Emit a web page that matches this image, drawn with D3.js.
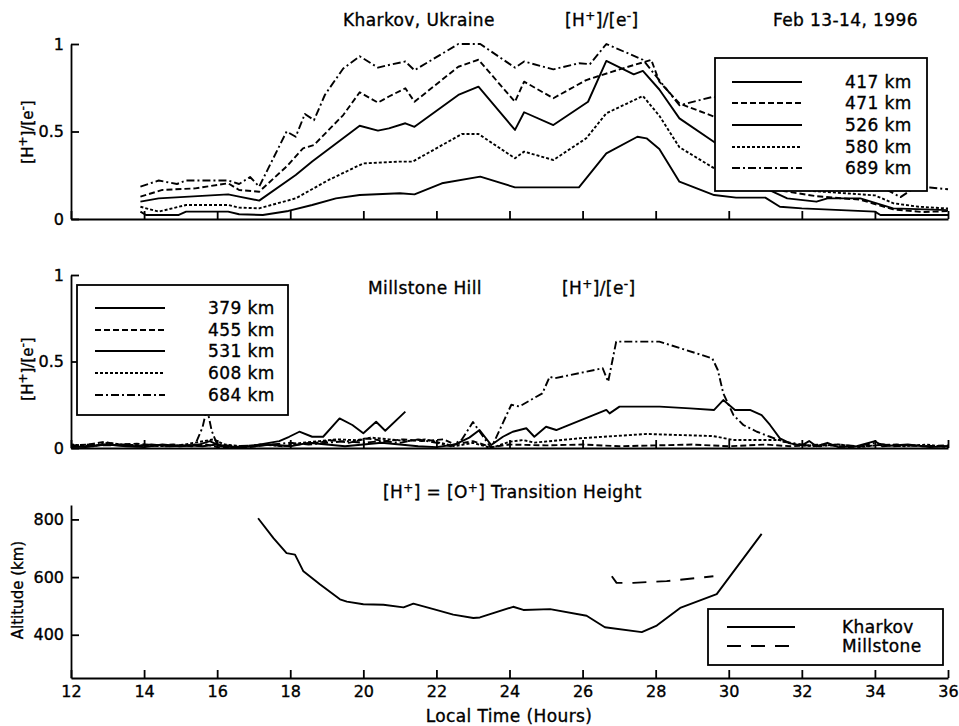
<!DOCTYPE html>
<html>
<head>
<meta charset="utf-8">
<script src="https://cdn.jsdelivr.net/npm/d3@7"></script>
<style>
  body { margin: 0; background: #fff; }
  svg text { font-family: "DejaVu Sans", sans-serif; font-size: 17px; letter-spacing: 0.4px; fill: #000; stroke: #000; stroke-width: 0.35px; }
  svg .tick text { font-size: 16px; letter-spacing: 0; }
  svg text.ylab { font-size: 15px; letter-spacing: 0; }
</style>
</head>
<body>
<svg id="chart" width="959" height="726"></svg>
<script>
// Kharkov [H+]/[e-] by altitude, [hour, ratio]
let k689 = [[13.9,0.185],[14.4,0.22],[14.9,0.2],[15.15,0.22],[16.3,0.22],[16.6,0.2],[16.9,0.24],[17.15,0.185],[17.9,0.5],[18.15,0.47],[18.4,0.6],[18.65,0.565],[18.95,0.71],[19.45,0.86],[19.9,0.93],[20.4,0.865],[20.7,0.88],[21.15,0.9],[21.4,0.85],[22.6,1.0],[23.2,1.0],[24.15,0.865],[24.4,0.9],[25.2,0.855],[25.9,0.89],[26.2,0.885],[26.65,1.0],[27.65,0.91],[28.65,0.65],[29.6,0.7],[30.5,0.62],[31.5,0.45],[32.5,0.32],[33.5,0.24],[34.3,0.17],[34.7,0.125],[35.1,0.18],[35.5,0.18],[36,0.17]]
let k580 = [[13.9,0.128],[14.5,0.166],[15.4,0.175],[16.3,0.204],[16.6,0.166],[17.15,0.156],[17.9,0.3],[18.35,0.404],[18.65,0.423],[19.45,0.594],[19.9,0.724],[20.4,0.665],[20.7,0.7],[21.15,0.747],[21.4,0.67],[22.6,0.87],[23.15,0.91],[24.15,0.67],[24.4,0.785],[25.2,0.69],[26.1,0.794],[27.1,0.861],[27.88,0.909],[28.1,0.785],[28.65,0.66],[29.6,0.585],[30.5,0.45],[31.5,0.16],[32.4,0.13],[33.6,0.11],[34.5,0.055],[35.3,0.04],[36,0.045]]
let k526 = [[13.9,0.099],[14.4,0.118],[16.3,0.141],[16.6,0.128],[17.15,0.105],[18.15,0.251],[18.6,0.328],[19.9,0.533],[20.4,0.505],[20.7,0.518],[21.15,0.547],[21.4,0.527],[22.6,0.709],[23.15,0.756],[24.15,0.509],[24.4,0.61],[25.2,0.537],[26.15,0.67],[26.65,0.903],[27.4,0.827],[27.65,0.846],[28.1,0.74],[28.65,0.575],[29.6,0.44],[30.5,0.3],[31.1,0.166],[31.6,0.118],[32.4,0.099],[32.7,0.118],[33.6,0.118],[34.5,0.061],[36,0.051]]
let k471 = [[13.9,0.07],[14.4,0.042],[15.15,0.08],[16.3,0.08],[16.6,0.065],[17.15,0.061],[18.15,0.118],[19.05,0.223],[20.0,0.318],[21.0,0.328],[21.35,0.328],[22.7,0.486],[23.15,0.486],[24.15,0.347],[24.4,0.385],[25.2,0.337],[26.1,0.461],[26.65,0.604],[27.65,0.703],[28.1,0.59],[28.65,0.41],[29.6,0.29],[30.5,0.22],[31.5,0.19],[32.3,0.16],[33.0,0.15],[34.0,0.135],[34.5,0.09],[35.2,0.07],[36,0.06]]
let k417 = [[13.9,0.042],[14.05,0.023],[14.95,0.023],[15.15,0.042],[16.3,0.042],[16.6,0.027],[17.25,0.023],[17.95,0.046],[18.6,0.08],[19.25,0.118],[19.9,0.137],[21.0,0.147],[21.4,0.141],[22.15,0.204],[23.2,0.242],[24.15,0.181],[25.9,0.181],[26.65,0.375],[27.5,0.47],[27.75,0.461],[28.1,0.4],[28.65,0.213],[29.6,0.137],[30.2,0.122],[31.0,0.122],[31.4,0.07],[32.0,0.061],[34.0,0.042],[34.15,0.023],[36,0.023]]

// Millstone Hill [H+]/[e-]
let m379 = [[12.0,0.01],[12.4,0.005],[12.9,0.02],[13.3,0.015],[13.8,0.01],[14.2,0.02],[14.7,0.01],[15.2,0.015],[15.6,0.01],[16.0,0.02],[16.4,0.005],[16.9,0.01],[17.3,0.025],[17.7,0.04],[17.97,0.065],[18.25,0.094],[18.6,0.065],[18.9,0.065],[19.35,0.171],[19.7,0.133],[20.0,0.085],[20.35,0.152],[20.6,0.1],[21.15,0.21]]
let m455 = [[12.0,0.015],[12.5,0.02],[12.9,0.035],[13.3,0.02],[13.8,0.025],[14.3,0.015],[14.8,0.02],[15.3,0.01],[15.7,0.02],[16.0,0.005],[16.4,0.0],[16.9,0.005],[17.4,0.02],[17.8,0.01],[18.2,0.02],[18.7,0.03],[19.2,0.045],[19.6,0.03],[20.1,0.055],[20.6,0.04],[21.1,0.05],[21.6,0.04],[22.2,0.05],[22.5,0.02],[23.0,0.04],[23.5,0.005],[24.0,0.02],[25.0,0.015],[26.0,0.02],[27.0,0.01],[28.0,0.015],[29.0,0.02],[30.0,0.01],[31.0,0.02],[31.7,0.01],[32.5,0.02],[33.3,0.005],[34.0,0.015],[34.6,0.02],[35.3,0.01],[36.0,0.015]]
let m531 = [[12.0,0.005],[12.5,0.01],[13.0,0.02],[13.5,0.01],[14.0,0.005],[14.5,0.02],[15.0,0.01],[15.5,0.02],[15.8,0.04],[16.1,0.01],[16.6,0.005],[17.0,0.01],[17.5,0.02],[18.0,0.01],[18.5,0.03],[19.0,0.02],[19.5,0.01],[20.0,0.02],[20.5,0.03],[21.0,0.02],[21.5,0.01],[22.0,0.005],[22.5,0.02],[22.9,0.06],[23.18,0.104],[23.5,0.017],[23.82,0.065],[24.09,0.094],[24.46,0.114],[24.68,0.065],[25.0,0.123],[25.28,0.104],[26.65,0.22],[26.74,0.2],[27.01,0.239],[28.11,0.239],[28.94,0.229],[29.6,0.22],[29.85,0.277],[30.17,0.22],[30.58,0.22],[30.9,0.19],[31.13,0.133],[31.4,0.056],[31.68,0.027],[32.0,0.015],[32.2,0.04],[32.4,0.01],[32.7,0.03],[33.0,0.005],[33.5,0.01],[34.0,0.04],[34.2,0.01],[34.9,0.02],[35.5,0.005],[36.0,0.01]]
let m608 = [[12.0,0.02],[12.6,0.01],[13.0,0.03],[13.4,0.02],[14.0,0.015],[14.6,0.01],[15.1,0.02],[15.9,0.05],[16.2,0.02],[16.7,0.01],[17.2,0.02],[17.8,0.01],[18.3,0.03],[18.8,0.04],[19.3,0.05],[19.8,0.045],[20.2,0.06],[20.7,0.05],[21.2,0.04],[21.7,0.05],[22.1,0.03],[22.5,0.01],[23.0,0.03],[23.5,0.0],[24.0,0.036],[24.37,0.046],[24.68,0.031],[25.92,0.056],[27.75,0.081],[29.57,0.069],[29.8,0.06],[30.12,0.046],[31.4,0.046],[31.8,0.02],[32.3,0.01],[33.0,0.02],[33.6,0.005],[34.2,0.02],[34.8,0.01],[35.4,0.02],[36.0,0.005]]
let m684 = [[12.0,0.01],[12.5,0.02],[13.0,0.015],[13.5,0.02],[14.0,0.01],[14.5,0.015],[15.0,0.01],[15.4,0.02],[15.6,0.12],[15.72,0.23],[15.85,0.1],[16.0,0.02],[16.5,0.01],[17.0,0.015],[17.5,0.02],[18.0,0.03],[18.5,0.02],[19.0,0.03],[19.5,0.04],[20.0,0.03],[20.5,0.04],[21.0,0.03],[21.5,0.05],[22.0,0.03],[22.4,0.01],[22.7,0.05],[23.0,0.15],[23.2,0.09],[23.5,0.0],[24.05,0.25],[24.27,0.24],[24.9,0.316],[25.1,0.412],[25.23,0.403],[26.55,0.461],[26.7,0.383],[26.92,0.615],[28.1,0.615],[29.55,0.518],[29.7,0.451],[29.85,0.316],[30.13,0.19],[30.4,0.133],[30.77,0.094],[31.13,0.065],[31.5,0.036],[32.0,0.02],[32.5,0.01],[33.0,0.02],[33.5,0.01],[34.0,0.03],[34.5,0.01],[35.0,0.015],[35.5,0.01],[36.0,0.01]]

// [H+] = [O+] transition height, km
let kharkovTH = [[17.12,804],[17.54,735],[17.9,683],[18.13,678],[18.36,620],[18.81,575],[19.36,523],[19.55,515],[20.0,506],[20.55,504],[21.1,495],[21.37,508],[21.92,489],[22.46,470],[23.01,458],[23.19,460],[24.1,497],[24.38,486],[25.11,489],[26.11,466],[26.61,426],[27.62,409],[28.03,432],[28.67,493],[29.67,541],[30.9,750]]
let millstoneTH = [[26.8,603],[26.93,580],[27.39,580],[28.3,586],[29.58,603]]

let hourTicks = d3.range(12, 37, 2)
let ratioTicks = [0, 0.5, 1]
let altTicks = [400, 600, 800]

let svg = d3.select('#chart')
let x = d3.scaleLinear().domain([12, 36]).range([71, 948])
let yTop = d3.scaleLinear().domain([0, 1]).range([219, 44])
let yMid = d3.scaleLinear().domain([0, 1]).range([448, 275])
let yBot = d3.scaleLinear().domain([250, 850]).range([678, 505])

const dash = { solid: null, dashed: '6,3', dotted: '3,2', dashdot: '8,3,2,3', long: '14,10' }
const lw = 1.9

function drawAxes(y, yTicks, showXLabels) {
    let bottom = y.range()[0]
    let gx = svg.append('g')
        .attr('transform', `translate(0,${bottom})`)
        .call(d3.axisBottom(x).tickValues(hourTicks).tickSizeInner(-8).tickSizeOuter(0).tickPadding(8)
            .tickFormat(showXLabels ? d3.format('d') : ''))
    let gy = svg.append('g')
        .attr('transform', `translate(${x(12)},0)`)
        .call(d3.axisLeft(y).tickValues(yTicks).tickSizeInner(-8).tickSizeOuter(0).tickPadding(7)
            .tickFormat(d3.format('~g')))
    ;[gx, gy].forEach(g => {
        g.selectAll('path, line').attr('stroke', '#000').attr('stroke-width', 1.8)
    })
}

function drawLine(data, y, style) {
    let line = d3.line().x(d => x(d[0])).y(d => y(d[1]))
    svg.append('path')
        .attr('d', line(data))
        .attr('fill', 'none')
        .attr('stroke', '#000')
        .attr('stroke-width', lw)
        .attr('stroke-linejoin', 'round')
        .attr('stroke-dasharray', dash[style])
}

// text with superscripts: parts = [[text, isSup], ...]
function richText(px, py, parts, anchor, rotate) {
    let t = svg.append('text')
        .attr('text-anchor', anchor || 'start')
    if (rotate) t.attr('class', 'ylab').attr('transform', `translate(${px},${py}) rotate(-90)`)
    else t.attr('x', px).attr('y', py)
    let shift = 0
    parts.forEach(p => {
        let s = t.append('tspan').text(p[0])
        if (p[1]) {
            s.attr('dy', -6 - shift).style('font-size', '12px')
            shift = -6
        } else {
            s.attr('dy', -shift)
            shift = 0
        }
    })
    return t
}

function legend(x0, y0, w, h, items, sampleX, textX, rowY) {
    let g = svg.append('g')
    g.append('rect')
        .attr('x', x0).attr('y', y0).attr('width', w).attr('height', h)
        .attr('fill', '#fff').attr('stroke', '#000').attr('stroke-width', 1.8)
    items.forEach((it, i) => {
        let yy = rowY[i]
        g.append('line')
            .attr('x1', sampleX[0]).attr('x2', sampleX[1])
            .attr('y1', yy).attr('y2', yy)
            .attr('stroke', '#000').attr('stroke-width', lw)
            .attr('stroke-dasharray', dash[it.style])
        g.append('text').attr('x', textX).attr('y', yy + 6).text(it.label)
    })
}

const Hplus_e = [['[H'], ['+', 1], [']/[e'], ['-', 1], [']']]

// ---- top panel: Kharkov ----
drawAxes(yTop, ratioTicks, false)
drawLine(k417, yTop, 'solid')
drawLine(k471, yTop, 'dotted')
drawLine(k526, yTop, 'solid')
drawLine(k580, yTop, 'dashed')
drawLine(k689, yTop, 'dashdot')
let topSeries = [
    { style: 'solid', label: '417 km' },
    { style: 'dashed', label: '471 km' },
    { style: 'solid', label: '526 km' },
    { style: 'dotted', label: '580 km' },
    { style: 'dashdot', label: '689 km' }
]
legend(715, 58, 212, 133, topSeries, [732, 802], 845, [82, 103, 125, 147, 168])

svg.append('text').attr('x', 343).attr('y', 26).text('Kharkov, Ukraine')
richText(565, 26, Hplus_e)
svg.append('text').attr('x', 773).attr('y', 26).text('Feb 13-14, 1996')
richText(33, 132, Hplus_e, 'middle', true)

// ---- middle panel: Millstone Hill ----
drawAxes(yMid, ratioTicks, false)
drawLine(m379, yMid, 'solid')
drawLine(m455, yMid, 'dashed')
drawLine(m608, yMid, 'dotted')
drawLine(m531, yMid, 'solid')
drawLine(m684, yMid, 'dashdot')
let midSeries = [
    { style: 'solid', label: '379 km' },
    { style: 'dashed', label: '455 km' },
    { style: 'solid', label: '531 km' },
    { style: 'dotted', label: '608 km' },
    { style: 'dashdot', label: '684 km' }
]
legend(77, 285, 211, 130, midSeries, [95, 165], 208, [308, 330, 351, 373, 395])
svg.append('text').attr('x', 368).attr('y', 294).text('Millstone Hill')
richText(562, 294, Hplus_e)
richText(33, 369, Hplus_e, 'middle', true)

// ---- bottom panel: transition height ----
drawAxes(yBot, altTicks, true)
drawLine(kharkovTH, yBot, 'solid')
drawLine(millstoneTH, yBot, 'long')
legend(708, 609, 235, 56,
    [{ style: 'solid', label: 'Kharkov' }, { style: 'long', label: 'Millstone' }],
    [727, 795], 842, [627, 646])
richText(383, 498, [['[H'], ['+', 1], ['] = [O'], ['+', 1], ['] Transition Height']])
svg.append('text').attr('x', 509).attr('y', 722).attr('text-anchor', 'middle').text('Local Time (Hours)')
svg.append('text').attr('class', 'ylab').attr('transform', 'translate(23,590) rotate(-90)').attr('text-anchor', 'middle').text('Altitude (km)')
</script>
</body>
</html>
